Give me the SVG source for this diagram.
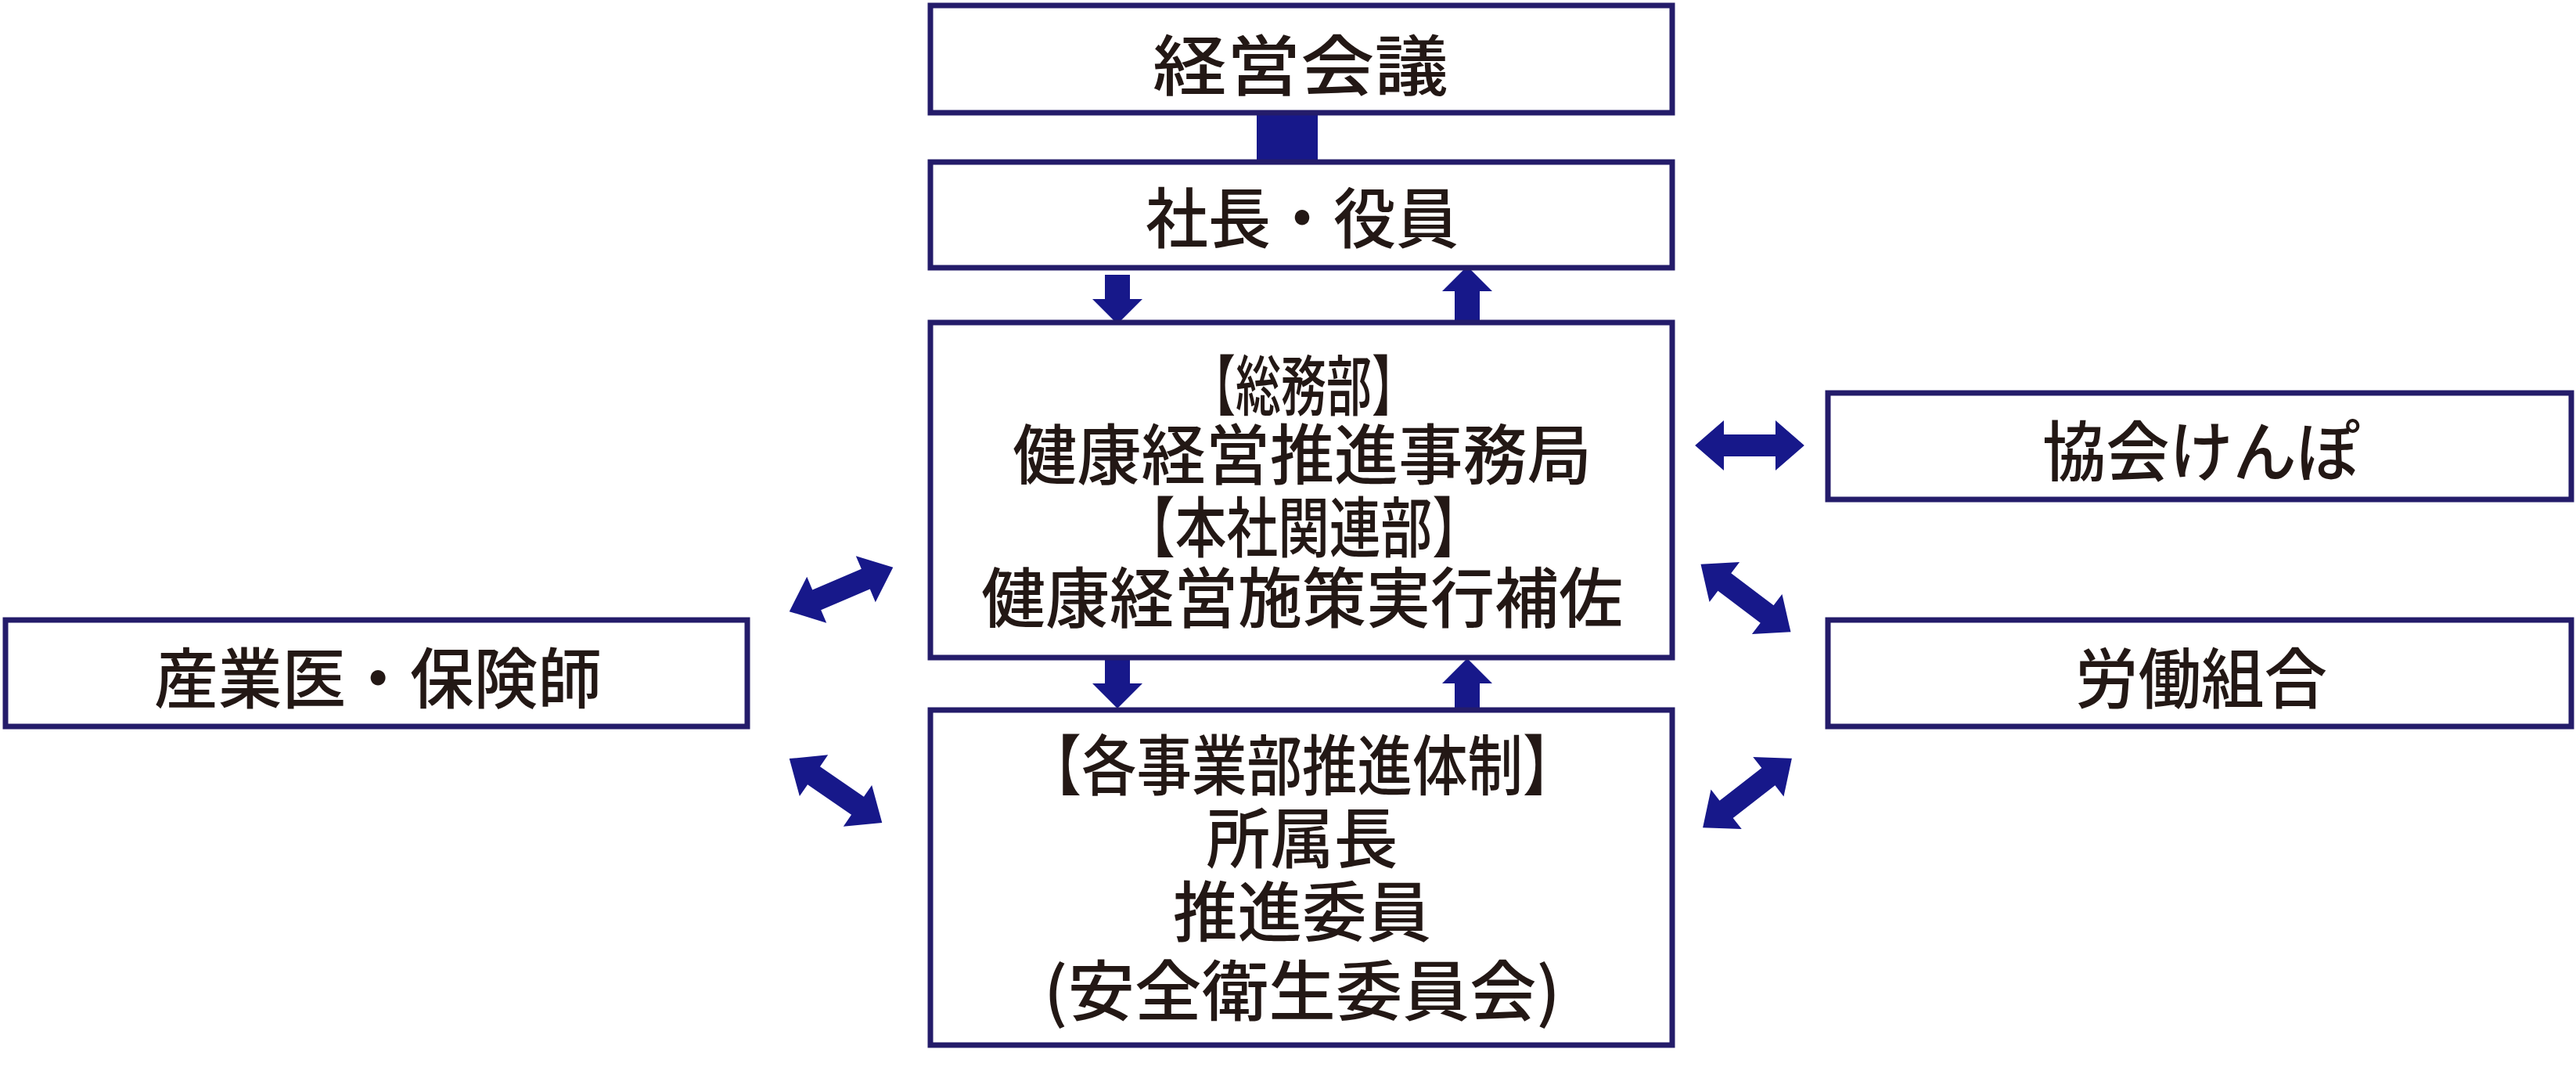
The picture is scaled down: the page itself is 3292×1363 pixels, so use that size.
<svg xmlns="http://www.w3.org/2000/svg" xmlns:xlink="http://www.w3.org/1999/xlink" width="3292" height="1363" viewBox="0 0 3292 1363">
<style>
.box{fill:#fff;stroke:#241c6a;stroke-width:7}
.t{font-family:"Noto Sans CJK JP","Noto Sans",sans-serif;font-weight:500;fill:#231815;text-anchor:middle;dominant-baseline:central;font-size:84px}
.a{fill:#17188a}
</style>
<defs>
<path id="dbl" d="M-72,0 L-34,-32 L-34,-14 L34,-14 L34,-32 L72,0 L34,32 L34,14 L-34,14 L-34,32 Z"/>
</defs>
<rect width="3292" height="1363" fill="#fff"/>
<g id="connectors" class="a">
<rect x="1606" y="147" width="78" height="60"/>
<path d="M1412,351 H1444 V382 H1460 L1428,414 L1396,382 H1412 Z"/>
<path d="M1859,410 V372 H1843 L1875,340 L1907,372 H1891 V410 Z"/>
<path d="M1412,840 H1444 V873 H1460 L1428,905 L1396,873 H1412 Z"/>
<path d="M1859,905 V873 H1843 L1875,841 L1907,873 H1891 V905 Z"/>
<use xlink:href="#dbl" href="#dbl" transform="translate(2236,569) scale(0.97,1)"/>
<use xlink:href="#dbl" href="#dbl" transform="translate(1075,753) rotate(-23)"/>
<use xlink:href="#dbl" href="#dbl" transform="translate(1068,1010) rotate(34.6)"/>
<use xlink:href="#dbl" href="#dbl" transform="translate(2231,764) rotate(37)"/>
<use xlink:href="#dbl" href="#dbl" transform="translate(2233,1013) rotate(-37.8)"/>
</g>
<g id="n1"><rect class="box" x="1189" y="7" width="948" height="137"/><text class="t" x="1662" y="78" textLength="378" lengthAdjust="spacingAndGlyphs">経営会議</text></g>
<g id="n2"><rect class="box" x="1189" y="207" width="948" height="135"/><text class="t" x="1664" y="273" textLength="400" lengthAdjust="spacingAndGlyphs">社長・役員</text></g>
<g id="n3"><rect class="box" x="1189" y="412" width="948" height="428"/>
<text class="t" x="1666" y="487" textLength="290" lengthAdjust="spacingAndGlyphs">【総務部】</text>
<text class="t" x="1664" y="575" textLength="740" lengthAdjust="spacingAndGlyphs">健康経営推進事務局</text>
<text class="t" x="1666" y="668" textLength="460" lengthAdjust="spacingAndGlyphs">【本社関連部】</text>
<text class="t" x="1664" y="758" textLength="820" lengthAdjust="spacingAndGlyphs">健康経営施策実行補佐</text></g>
<g id="n4"><rect class="box" x="1189" y="907" width="948" height="428"/>
<text class="t" x="1664" y="972" textLength="705" lengthAdjust="spacingAndGlyphs">【各事業部推進体制】</text>
<text class="t" x="1664" y="1065" textLength="245" lengthAdjust="spacingAndGlyphs">所属長</text>
<text class="t" x="1664" y="1159" textLength="330" lengthAdjust="spacingAndGlyphs">推進委員</text>
<text class="t" x="1664" y="1260" textLength="660" lengthAdjust="spacingAndGlyphs">(安全衛生委員会)</text></g>
<g id="n5"><rect class="box" x="7" y="792" width="948" height="136"/><text class="t" x="483" y="861" textLength="572" lengthAdjust="spacingAndGlyphs">産業医・保険師</text></g>
<g id="n6"><rect class="box" x="2336" y="502" width="950" height="136"/><text class="t" x="2813" y="571" textLength="406" lengthAdjust="spacingAndGlyphs">協会けんぽ</text></g>
<g id="n7"><rect class="box" x="2336" y="792" width="950" height="136"/><text class="t" x="2813" y="861" textLength="322" lengthAdjust="spacingAndGlyphs">労働組合</text></g>
</svg>
